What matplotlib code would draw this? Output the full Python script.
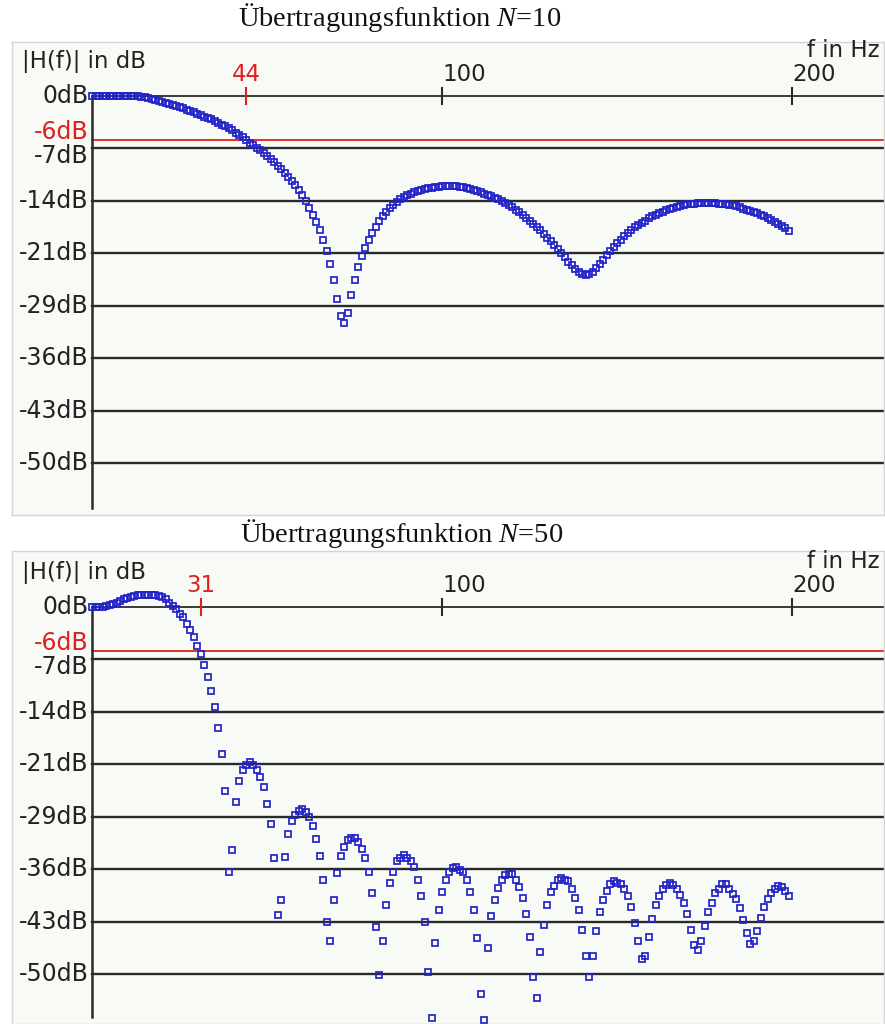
import numpy as np
import matplotlib
matplotlib.use("Agg")
import matplotlib.pyplot as plt

plt.rcParams['font.family'] = ['DejaVu Sans']
plt.rcParams['mathtext.fontset'] = 'custom'
plt.rcParams['mathtext.rm'] = 'Liberation Serif'
plt.rcParams['mathtext.it'] = 'Liberation Serif:italic'

# |H(f)| in dB, one value per Hz (f = 0 .. 199)
h_n10 = [
    0.0, 0.0, 0.0, 0.0, 0.0, 0.0, 0.0, 0.0, 0.0, 0.0,
    0.0, 0.0, 0.0, -0.05, -0.1, -0.2, -0.3, -0.4, -0.5, -0.65,
    -0.8, -0.95, -1.1, -1.25, -1.4, -1.55, -1.7, -1.85, -2.0, -2.2,
    -2.4, -2.6, -2.8, -3.0, -3.2, -3.4, -3.65, -3.9, -4.15, -4.4,
    -4.7, -5.0, -5.3, -5.65, -6.0, -6.35, -6.7, -7.05, -7.4, -7.8,
    -8.2, -8.6, -9.05, -9.5, -10.0, -10.5, -11.05, -11.6, -12.2, -12.8,
    -13.5, -14.3, -15.3, -16.2, -17.2, -18.3, -19.7, -21.2, -22.9, -25.1,
    -27.7, -30.0, -31.0, -29.6, -27.1, -25.1, -23.3, -21.8, -20.7, -19.6,
    -18.7, -17.9, -17.1, -16.4, -15.8, -15.3, -14.8, -14.4, -14.1, -13.8,
    -13.5, -13.3, -13.1, -12.9, -12.8, -12.7, -12.6, -12.5, -12.4, -12.35,
    -12.3, -12.3, -12.3, -12.3, -12.3, -12.35, -12.45, -12.6, -12.7, -12.85,
    -13.0, -13.15, -13.3, -13.5, -13.7, -13.9, -14.1, -14.3, -14.6, -14.9,
    -15.2, -15.5, -15.8, -16.2, -16.6, -17.0, -17.4, -17.8, -18.3, -18.8,
    -19.3, -19.8, -20.3, -20.9, -21.4, -22.0, -22.6, -23.1, -23.6, -24.0,
    -24.3, -24.4, -24.3, -24.0, -23.5, -22.9, -22.3, -21.7, -21.1, -20.6,
    -20.1, -19.6, -19.1, -18.7, -18.3, -17.9, -17.6, -17.3, -17.0, -16.7,
    -16.4, -16.2, -16.0, -15.8, -15.6, -15.4, -15.25, -15.1, -15.0, -14.85,
    -14.75, -14.7, -14.7, -14.65, -14.65, -14.65, -14.65, -14.65, -14.65, -14.7,
    -14.7, -14.75, -14.8, -14.9, -15.05, -15.2, -15.35, -15.5, -15.65, -15.8,
    -16.0, -16.2, -16.4, -16.65, -16.9, -17.15, -17.4, -17.7, -18.0, -18.4,
]

h_n50 = [
    0.0, 0.0, 0.02, 0.05, 0.1, 0.25, 0.4, 0.6, 0.85, 1.05,
    1.25, 1.4, 1.5, 1.6, 1.7, 1.7, 1.7, 1.7, 1.6, 1.5,
    1.35, 1.05, 0.6, 0.15, -0.3, -0.9, -1.4, -2.3, -3.1, -4.1,
    -5.3, -6.4, -7.9, -9.6, -11.5, -13.6, -16.5, -20.1, -25.1, -36.1,
    -33.2, -26.6, -23.7, -22.2, -21.5, -21.2, -21.5, -22.2, -23.2, -24.6,
    -26.8, -29.6, -34.2, -42.0, -39.9, -34.1, -31.0, -29.2, -28.4, -27.8,
    -27.5, -27.9, -28.6, -29.9, -31.6, -33.9, -37.2, -43.0, -45.6, -39.9,
    -36.3, -33.9, -32.7, -31.8, -31.5, -31.5, -32.0, -33.0, -34.2, -36.1,
    -39.0, -43.7, -50.2, -45.6, -40.6, -37.7, -36.1, -34.7, -34.2, -33.8,
    -34.2, -34.6, -35.5, -37.2, -39.4, -43.0, -49.8, -56.0, -45.8, -41.3,
    -38.9, -37.2, -36.1, -35.6, -35.5, -35.9, -36.2, -37.2, -38.9, -41.3,
    -45.1, -52.8, -56.3, -46.5, -42.2, -39.9, -38.3, -37.2, -36.6, -36.4,
    -36.4, -37.2, -38.2, -39.7, -41.8, -45.0, -50.4, -53.3, -47.1, -43.3,
    -40.6, -38.9, -38.0, -37.2, -37.0, -37.2, -37.4, -38.5, -39.7, -41.3,
    -44.0, -47.6, -50.4, -47.6, -44.2, -41.6, -40.0, -38.7, -37.8, -37.4,
    -37.6, -37.8, -38.5, -39.4, -40.9, -43.1, -45.6, -48.0, -47.6, -45.0,
    -42.6, -40.7, -39.4, -38.5, -37.9, -37.7, -37.9, -38.5, -39.3, -40.3,
    -41.8, -44.0, -46.1, -46.8, -45.6, -43.5, -41.6, -40.3, -39.0, -38.4,
    -37.8, -37.8, -38.4, -39.1, -39.8, -41.1, -42.7, -44.4, -45.9, -45.6,
    -44.2, -42.4, -40.9, -39.8, -39.0, -38.4, -38.1, -38.2, -38.7, -39.4,
]

grid_db = [0, -7.15, -14.3, -21.45, -28.6, -35.75, -42.9, -50.05]
grid_labels = ['0dB', '-7dB', '-14dB', '-21dB', '-29dB', '-36dB', '-43dB', '-50dB']
freq_ticks = [100, 200]
cutoff = {10: 44, 50: 31}

W, H = 885, 1024
PX_HZ = 3.5       # pixels per Hz
PX_DB = 7.333     # pixels per dB
X0 = 92           # pixel column of f = 0
FS = 17

fig = plt.figure(figsize=(W / 100, H / 100), dpi=100)


def panel(top, bottom, y0, data, fc):
    ax = fig.add_axes([12 / W, 1 - bottom / H, (884 - 12) / W, (bottom - top) / H])
    xmax = (884 - X0) / PX_HZ
    ymin = -(bottom - y0) / PX_DB
    ax.set_xlim((12 - X0) / PX_HZ, xmax)
    ax.set_ylim(ymin, (y0 - top) / PX_DB)
    ax.set_facecolor('#f8faf6')
    for s in ax.spines.values():
        s.set_color('#d4d4d4')
        s.set_linewidth(1.0)
    ax.set_xticks([])
    ax.set_yticks([])

    # horizontal grid lines and labels
    for v, lab in zip(grid_db, grid_labels):
        ax.plot([0, xmax], [v, v], color='#2a2a2a', lw=1.3 if v == 0 else 1.7, zorder=1)
        ty = v - 1.1 if lab == '-7dB' else v   # pushed down, clear of -6dB
        ax.text(-1.0, ty, lab, ha='right', va='center', fontsize=FS, color='#222222')
    ax.plot([0, xmax], [-6, -6], color='#e02020', lw=1.3, zorder=1)
    ax.text(-1.0, -4.85, '-6dB', ha='right', va='center', fontsize=FS, color='#e02020')

    # vertical axis
    ax.plot([0, 0], [ymin + 1, 0], color='#2a2a2a', lw=1.8, zorder=1)

    # frequency ticks
    for f in freq_ticks:
        ax.plot([f, f], [-1.1, 1.1], color='#2a2a2a', lw=1.5, zorder=1)
        ax.text(f, 2.9, str(f), ha='left', va='center', fontsize=16.5, color='#222222')
    ax.plot([fc, fc], [-1.1, 1.1], color='#e02020', lw=1.5, zorder=1)
    ax.text(fc, 2.9, str(fc), ha='center', va='center', fontsize=16.5, color='#e02020')

    ax.text(-20, 4.7, '|H(f)| in dB', ha='left', va='center', fontsize=16.5, color='#222222')
    ax.text(225, 6.2, 'f in Hz', ha='right', va='center', fontsize=16.5, color='#222222')

    f = np.arange(len(data))
    ax.plot(f, data, ls='none', marker='s', ms=3.8, mfc='none',
            mec='#2323c8', mew=1.25, zorder=3, clip_on=True)
    return ax


panel(42, 515, 96, h_n10, cutoff[10])
panel(551, 1024, 607, h_n50, cutoff[50])

fig.text(400 / W, 1 - 18 / H, r'Übertragungsfunktion $N$=10', ha='center', va='center',
         fontsize=20.5, family='Liberation Serif', color='#111111')
fig.text(402 / W, 1 - 533 / H, r'Übertragungsfunktion $N$=50', ha='center', va='center',
         fontsize=20.5, family='Liberation Serif', color='#111111')

fig.savefig('out.png', dpi=100)
